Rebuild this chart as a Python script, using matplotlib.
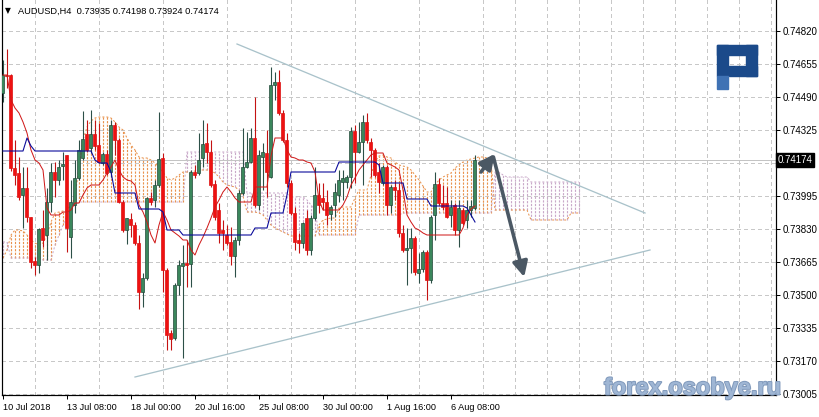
import numpy as np
import matplotlib
matplotlib.use("Agg")
import matplotlib.pyplot as plt
from matplotlib.patches import Rectangle
from matplotlib import transforms
from matplotlib import patheffects as pe

plt.rcParams['lines.scale_dashes'] = False

# ---------------- data (prices in 1e-5 units) ----------------
title_symbol = "AUDUSD,H4"
title_values = "0.73935 0.74198 0.73924 0.74174"
last_price = 0.74174

opens = [74510,74600,74600,74135,74110,74000,74035,73890,73670,73650,
         73835,73800,73965,74115,74075,74145,74200,73790,73950,74085,
         74185,74305,74235,74305,74250,74160,74205,74115,74350,74275,
         73965,73825,73880,73850,73760,73515,73585,73985,73975,74050,
         74185,73625,73310,73285,73550,73645,73660,73655,74115,74110,
         74185,74260,74215,74055,73925,73825,73800,73765,73695,73775,
         74010,74140,74165,74285,73950,74190,74210,74090,74550,74565,
         74410,74275,74060,73910,73775,73760,73885,73725,73885,74000,
         73985,73965,73905,73950,74000,74065,74065,74090,74320,74215,
         74265,74365,74265,74225,74115,74060,74140,73950,74040,74025,
         73810,73725,73735,73785,73610,73630,73715,73575,73900,74055,
         73960,73960,73900,73950,73825,73925,73875,73925,73935]
highs = [74675,74730,74605,74275,74190,74140,74140,73890,73690,73835,
         73925,74035,74160,74165,74175,74215,74200,74075,74175,74275,
         74420,74375,74425,74375,74360,74215,74225,74375,74365,74285,
         73975,73885,73910,73865,73800,73610,73990,74015,74075,74415,
         74210,73635,73325,73560,73675,73750,73775,74125,74150,74310,
         74375,74360,74275,74075,73960,73875,73850,73840,73790,74025,
         74335,74315,74335,74490,74225,74260,74325,74640,74615,74625,
         74425,74310,74075,73940,73810,73865,73925,73900,74140,74060,
         74060,74025,73950,74060,74125,74125,74100,74340,74350,74365,
         74400,74410,74285,74235,74160,74150,74150,74050,74075,74060,
         73850,73835,73835,73795,73710,73725,73725,73900,74115,74085,
         74050,74040,73975,73960,73975,73935,73975,73975,74198]
lows = [74465,74535,74120,74050,73975,73835,73865,73635,73600,73610,
        73740,73675,73915,73990,74050,74075,73715,73685,73910,74075,
        74175,74215,74210,74225,74160,74150,74100,74090,74200,73960,
        73815,73755,73790,73750,73430,73440,73575,73950,73940,74040,
        73515,73225,73225,73275,73500,73185,73540,73540,74085,74100,
        74140,74160,74040,73875,73760,73725,73750,73650,73590,73750,
        74000,74135,74160,73940,73925,74025,73990,74085,74475,74400,
        74265,74040,73900,73725,73710,73735,73700,73700,73875,73910,
        73925,73850,73875,73890,73965,73975,74035,74035,74060,74210,
        74050,74260,74090,74090,74010,74050,73900,73910,73975,73790,
        73715,73550,73610,73600,73560,73615,73475,73560,73775,73950,
        73925,73885,73840,73800,73740,73850,73835,73890,73924]
closes = [74600,74595,74135,74100,73990,74035,73890,73665,73650,73830,
          73775,73965,74115,74075,74140,74155,73835,73965,74085,74225,
          74280,74225,74305,74245,74165,74205,74110,74350,74275,73965,
          73825,73885,73850,73760,73515,73585,73985,73965,74050,74180,
          73625,73300,73280,73550,73650,73660,73650,74115,74100,74175,
          74255,74215,74050,73890,73810,73810,73760,73695,73775,74010,
          74140,74165,74285,73950,74200,74215,74115,74550,74565,74410,
          74275,74060,73910,73765,73760,73860,73725,73885,74000,73950,
          73965,73900,73940,74015,74075,74085,74090,74320,74215,74265,
          74365,74275,74225,74100,74065,74140,73950,74040,74025,73810,
          73725,73735,73785,73615,73630,73715,73575,73890,74055,73960,
          73940,73890,73940,73825,73935,73860,73925,73945,74174]

tenkan = [74600,74600,74475,74435,74410,74365,74310,74225,74175,74160,
          74125,73935,73900,73900,73900,73915,73915,73925,73960,73960,
          74000,74035,74050,74050,74050,74075,74110,74140,74175,74125,
          74090,74075,74070,74050,73950,73915,73865,73800,73760,73850,
          73915,73875,73825,73810,73795,73775,73775,73725,73700,73750,
          73790,73835,73885,73940,73975,74015,74040,74015,73985,73965,
          73965,73965,73965,74040,74040,74040,74040,74195,74285,74285,
          74285,74225,74190,74185,74175,74175,74165,74160,74115,73975,
          73925,73925,73925,73925,73925,73950,73990,74050,74085,74125,
          74150,74175,74200,74210,74210,74210,74160,74150,74140,74125,
          74025,73900,73865,73835,73825,73810,73800,73800,73800,73800,
          73800,73800,73800,73800,73800,73835,73900,73930,73945]

kijun = ([74220]*6 + [74285, 74245] + [74220]*15 + [74175] + [74160]*3 + [74115]
         + [74010]*6 + [73930]*6 + [73915] + [73825]*4 + [73800]*18 + [73835]*4
         + [73910]*4 + [74000] + [74115]*12 + [74165]*10 + [74150] + [74060]*6
         + [73980]*6 + [73945]*9 + [73935, 73900, 73865])

senkou_a = ([73685,73725,73800,73825,73825,73820,73800,73775,73760,73750,
             73760,73800,73865,73910,73915,73920,73925,73950,73990,74140,
             74275,74340,74370,74385,74390,74390,74390,74385,74365,74340,
             74325,74285,74250,74225,74190,74185,74185,74175,74160,74140,
             74115,74085,74075,74085,74100,74115,74115,74115,74120,74125,
             74125,74125,74120,74110,74090,74065,74050,74045,74040,74025,
             73995,73915,73915,73915,73910,73900,73875,73850,73835,73825,
             73815,73805,73795,73795,73795,73795,73795,73795,73795,73850,
             73875,73880,73885,73885,73935,73940,73940,73940,73985,74025,
             74025,74025,74100,74165,74195,74200,74190,74185,74165,74150,
             74145,74140,74125,74100,74075,74045,74015,74015,74050,74075,
             74090,74100,74110,74135,74150,74165,74175,74180,74185,74190,
             74190,74185,74165]
            + [73925]*9 + [73875]*10 + [73910]*3)

senkou_b = ([73765]*2 + [73685]*8 + [73675]*3 + [73750, 73800, 73850, 73900, 73925, 73950]
            + [73965]*27 + [74215]*15 + [74010]*11 + [73990]*4 + [73975, 73950, 73925]
            + [73800]*10 + [73900]*11 + [73910]*23 + [74115]*2 + [74100] + [74090]*6
            + [74065]*13)

x_tick_bars = [0, 16, 32, 48, 64, 80, 96, 112]
x_tick_labels = ["10 Jul 2018", "13 Jul 08:00", "18 Jul 00:00", "20 Jul 16:00",
                 "25 Jul 08:00", "30 Jul 00:00", "1 Aug 16:00", "6 Aug 08:00"]
y_ticks = [0.73005, 0.73170, 0.73335, 0.73500, 0.73665, 0.73830, 0.73995,
           0.74160, 0.74325, 0.74490, 0.74655, 0.74820]

trend_upper_x = [58.5, 160.5]
trend_upper_y = [0.74755, 0.73910]
trend_lower_x = [33.0, 161.75]
trend_lower_y = [0.73090, 0.73725]
arrow_up = [(119.5, 0.74115), (122.9, 0.74205)]
arrow_down = [(122.6, 0.74190), (130.3, 0.73590)]

SCALE = 1e5
assert len(opens) == len(highs) == len(lows) == len(closes) == len(tenkan) == len(kijun)
assert len(senkou_a) == len(senkou_b)

# ---------------- figure ----------------
W, H = 820, 417
fig = plt.figure(figsize=(W / 100, H / 100), dpi=100)
fig.patch.set_facecolor("white")
L, R, T, B = 2, 776, 0, 395
ax = fig.add_axes([L / W, 1 - B / H, (R - L) / W, (B - T) / H])
ax.set_facecolor("white")
ax.set_xlim(-0.25, 193.25)
ax.set_ylim(0.73000, 0.74975)

PX = 0.72  # one pixel in points
grid_color = "#c8c8c8"

# grid
ax.set_xticks(np.arange(0, 194, 8), minor=True)
ax.set_xticks(x_tick_bars)
ax.set_xticklabels(x_tick_labels)
ax.set_yticks(y_ticks)
ax.set_yticklabels([("" if abs(v - 0.74160) < 1e-9 else f"{v:.5f}") for v in y_ticks])
ax.grid(which="minor", axis="x", color=grid_color, lw=PX, ls=(0, (3 * PX, 3 * PX)),
        zorder=0, antialiased=False)
ax.grid(which="major", axis="y", color=grid_color, lw=PX, ls=(0, (3 * PX, 3 * PX)),
        zorder=0, antialiased=False)
ax.set_axisbelow(True)

ax.yaxis.tick_right()
ax.tick_params(axis="y", which="major", length=3, width=PX, pad=2, labelsize=7,
               direction="out", colors="black")
ax.tick_params(axis="x", which="major", length=3, width=PX, pad=2.5, labelsize=6.6,
               direction="out")
ax.tick_params(axis="x", which="minor", length=0)
for lab in ax.get_xticklabels():
    lab.set_horizontalalignment("left")
    lab.set_fontfamily("Liberation Sans")
for lab in ax.get_yticklabels():
    lab.set_fontfamily("Liberation Sans")

for s in ["left", "right", "bottom"]:
    ax.spines[s].set_color("black")
    ax.spines[s].set_linewidth(PX * 1.2)
ax.spines["top"].set_visible(False)

# ---------------- Ichimoku cloud ----------------
sa = np.array(senkou_a) / SCALE
sb = np.array(senkou_b) / SCALE
xc = np.arange(len(sa))
up = sa >= sb
sandy = "#E8924C"
thistle = "#C9A8C9"
dots = (0, (2.2 * PX, 1.4 * PX))
ax.vlines(xc[up], sb[up], sa[up], colors=sandy, lw=PX * 1.15, linestyles=[dots], zorder=1)
ax.vlines(xc[~up], sa[~up], sb[~up], colors=thistle, lw=PX * 1.15, linestyles=[dots], zorder=1)
ax.plot(xc, sa, color=sandy, lw=PX, ls=(0, (2 * PX, 2 * PX)), zorder=1)
ax.plot(xc, sb, color=thistle, lw=PX, ls=(0, (2 * PX, 2 * PX)), zorder=1)

# bid line
ax.axhline(last_price, color="#c4c4c4", lw=PX, zorder=1)

# ---------------- candles ----------------
o = np.array(opens) / SCALE
h = np.array(highs) / SCALE
l = np.array(lows) / SCALE
c = np.array(closes) / SCALE
idx = np.arange(len(o))
bull = c >= o
body_lo = np.minimum(o, c)
body_h = np.maximum(np.abs(c - o), 0.000012)

bull_fill, bull_edge, bull_wick = "#3b875c", "#23493a", "#2c4f47"
bear_fill, bear_edge, bear_wick = "#ee1111", "#dd1111", "#c41212"

ax.vlines(idx[bull], l[bull], h[bull], colors=bull_wick, lw=PX * 1.1, zorder=3)
ax.vlines(idx[~bull], l[~bull], h[~bull], colors=bear_wick, lw=PX * 1.1, zorder=3)
ax.bar(idx[bull], body_h[bull], bottom=body_lo[bull], width=0.75, color=bull_fill,
       edgecolor=bull_edge, lw=0.5, zorder=4)
ax.bar(idx[~bull], body_h[~bull], bottom=body_lo[~bull], width=0.75, color=bear_fill,
       edgecolor=bear_edge, lw=0.5, zorder=4)

# ---------------- Tenkan / Kijun ----------------
ax.plot(idx, np.array(tenkan) / SCALE, color="#d01818", lw=PX, zorder=5)
ax.plot(idx, np.array(kijun) / SCALE, color="#0a0a9a", lw=PX * 1.1, zorder=5)

# ---------------- trend lines & arrows ----------------
tl_color = "#a9c2ca"
ax.plot(trend_upper_x, trend_upper_y, color=tl_color, lw=PX * 1.3, zorder=2)
ax.plot(trend_lower_x, trend_lower_y, color=tl_color, lw=PX * 1.3, zorder=2)

arrow_color = "#4b5864"
for (x0, y0), (x1, y1) in [arrow_up, arrow_down]:
    ax.annotate("", xy=(x1, y1), xytext=(x0, y0),
                arrowprops=dict(arrowstyle="-|>,head_length=0.9,head_width=0.45",
                                color=arrow_color, lw=2.6, shrinkA=0, shrinkB=0),
                zorder=6)

# ---------------- price label ----------------
trans = transforms.blended_transform_factory(ax.transAxes, ax.transData)
ax.text(1.0 + 1.5 / (R - L), last_price, "0.74174", transform=trans, ha="left",
        va="center", color="white", fontsize=7, family="Liberation Sans",
        bbox=dict(boxstyle="square,pad=0.18", fc="black", ec="black"),
        zorder=10, clip_on=False)

# ---------------- title ----------------
fig.text(5 / W, 1 - 11 / H, "\u25BC", fontsize=5.5, family="DejaVu Sans",
         va="center", ha="left", color="black")
fig.text(18 / W, 1 - 11 / H, f"{title_symbol}  {title_values}", fontsize=6.7,
         family="Liberation Sans", va="center", ha="left", color="black")

# ---------------- logo (simplified) ----------------
def px_rect(x0, y0, x1, y1, color):
    fig.patches.append(Rectangle((x0 / W, 1 - y1 / H), (x1 - x0) / W, (y1 - y0) / H,
                                 transform=fig.transFigure, color=color, zorder=8))

logo_dark = "#1b4a8a"
logo_light = "#3f72b4"
px_rect(717, 45, 757, 55, logo_dark)
px_rect(746, 45, 757, 76, logo_dark)
px_rect(729, 66, 757, 76, logo_dark)
px_rect(717, 45, 728, 76, logo_dark)
px_rect(717, 76, 728, 89, logo_light)

# ---------------- watermark ----------------
fig.text(604 / W, 1 - 388 / H, "forex.osobye.ru", fontsize=17, fontweight="bold",
         family="Liberation Sans", color="#9fb6d4", va="center", ha="left",
         path_effects=[pe.withStroke(linewidth=1.4, foreground="#8099bb")], zorder=9)

fig.savefig("out.png", dpi=100)
